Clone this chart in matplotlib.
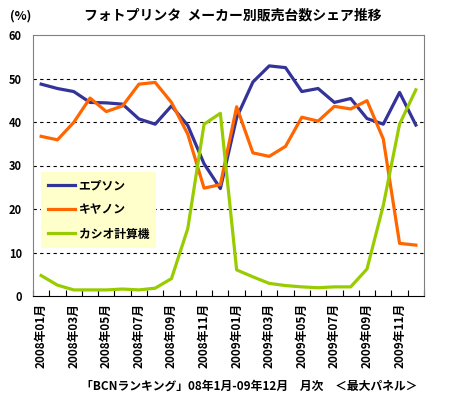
import numpy as np
import matplotlib.pyplot as plt

plt.rcParams['font.family'] = ['Noto Sans CJK JP', 'DejaVu Sans']

months = ['2008年01月', '2008年02月', '2008年03月', '2008年04月', '2008年05月', '2008年06月',
          '2008年07月', '2008年08月', '2008年09月', '2008年10月', '2008年11月', '2008年12月',
          '2009年01月', '2009年02月', '2009年03月', '2009年04月', '2009年05月', '2009年06月',
          '2009年07月', '2009年08月', '2009年09月', '2009年10月', '2009年11月', '2009年12月']

epson = [48.7, 47.7, 47.0, 44.5, 44.4, 44.1, 40.7, 39.5, 43.7, 39.2, 30.4, 24.7,
         41.0, 49.2, 52.9, 52.5, 47.0, 47.7, 44.5, 45.4, 40.8, 39.5, 46.8, 39.3]
canon = [36.7, 35.9, 39.9, 45.5, 42.4, 43.7, 48.7, 49.1, 44.5, 37.2, 24.8, 25.6,
         43.5, 32.9, 32.1, 34.4, 41.1, 40.2, 43.6, 43.0, 44.9, 36.1, 12.1, 11.7]
casio = [4.7, 2.5, 1.4, 1.4, 1.4, 1.6, 1.4, 1.8, 4.0, 15.5, 39.5, 42.0,
         6.0, 4.4, 2.9, 2.4, 2.1, 1.9, 2.1, 2.1, 6.2, 20.8, 39.5, 47.4]

fig = plt.figure(figsize=(4.56, 3.99), dpi=100)
ax = fig.add_axes([33 / 456, 1 - 296 / 399, 391 / 456, 261 / 399])

x = np.arange(len(months))
ax.plot(x, epson, color='#333399', lw=2.3, label='エプソン')
ax.plot(x, canon, color='#FF6600', lw=2.3, label='キヤノン')
ax.plot(x, casio, color='#99CC00', lw=2.3, label='カシオ計算機')

ax.set_xlim(-0.5, len(months) - 0.5)
ax.set_ylim(0, 60)
ax.set_yticks(range(0, 61, 10))
ax.set_yticklabels([str(v) for v in range(0, 61, 10)], fontsize=8, fontweight='bold')
ax.tick_params(axis='y', length=0, pad=8)
for v in range(10, 60, 10):
    ax.axhline(v, color='black', lw=0.8, ls=(0, (3, 3)), zorder=0)

ax.set_xticks(x[::2])
ax.set_xticklabels(months[::2], rotation=90, fontsize=8.5, fontweight='bold')
ax.set_xticks(np.arange(-0.5, len(months)), minor=True)
ax.tick_params(axis='x', which='major', length=0, pad=5)
ax.tick_params(axis='x', which='minor', direction='in', length=4, width=0.8)

for s in ['top', 'right']:
    ax.spines[s].set_color('#808080')
ax.spines['left'].set_color('#808080')
ax.spines['bottom'].set_color('black')

leg = ax.legend(loc='lower left', bbox_to_anchor=(0.02, 0.185), borderaxespad=0,
                frameon=True, fancybox=False, handlelength=2.3, handletextpad=0.3,
                labelspacing=0.95, prop={'size': 8.5, 'weight': 'bold'}, borderpad=0.6)
leg.get_frame().set_facecolor('#FFFFCC')
leg.get_frame().set_edgecolor('none')
leg.get_frame().set_alpha(1)

fig.text(10 / 456, 1 - 16 / 399, '(%)', fontsize=9, fontweight='bold', va='center')
fig.text(233 / 456, 1 - 15 / 399, 'フォトプリンタ  メーカー別販売台数シェア推移',
         fontsize=10, fontweight='bold', ha='center', va='center')
fig.text(249 / 456, 1 - 386 / 399, '「BCNランキング」08年1月-09年12月　月次　＜最大パネル＞',
         fontsize=8.5, fontweight='bold', ha='center', va='center')

fig.savefig('out.png', dpi=100)
